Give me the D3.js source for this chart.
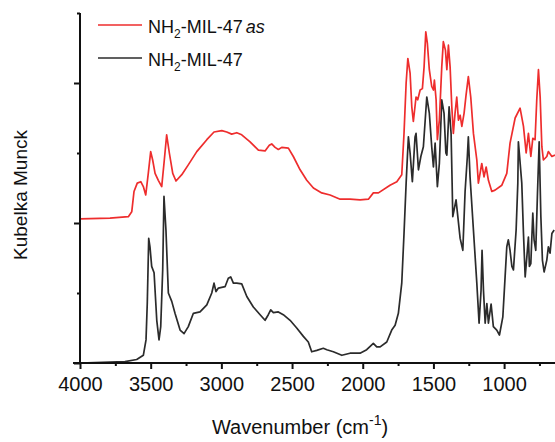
<!DOCTYPE html>
<html>
<head>
<meta charset="utf-8">
<script src="https://cdn.jsdelivr.net/npm/d3@7"></script>
<style>
  html, body { margin: 0; padding: 0; background: #fff; }
  svg { display: block; font-family: "Liberation Sans", Arial, sans-serif; }
</style>
</head>
<body>
<svg id="chart" width="555" height="442"></svg>
<script>
// ---- Data (wavenumber cm-1, Kubelka-Munck arbitrary units) ----
const seriesNames = ["NH2-MIL-47as", "NH2-MIL-47"];

const asWavenumber = [4000,3788,3658,3634,3618,3595,3570,3552,3535,3517,3500,3486,3469,3446,3422,3406,3387,3368,3344,3321,3280,3234,3174,3103,3052,2997,2962,2927,2891,2856,2797,2738,2691,2661,2644,2620,2597,2573,2526,2491,2443,2396,2349,2290,2231,2160,2090,2019,1960,1925,1889,1807,1759,1724,1708,1693,1681,1665,1653,1642,1623,1611,1594,1578,1566,1554,1543,1529,1512,1500,1493,1481,1472,1458,1441,1430,1415,1405,1394,1382,1370,1359,1347,1335,1323,1311,1299,1283,1269,1253,1236,1217,1193,1182,1158,1142,1127,1111,1087,1064,1016,981,958,922,887,863,844,828,811,797,781,769,757,745,733,722,698,687,662,640];
const asValue = [2.06,2.07,2.09,2.16,2.45,2.57,2.59,2.52,2.40,2.71,3.02,2.90,2.71,2.61,2.52,2.85,3.26,3.00,2.71,2.60,2.69,2.83,3.02,3.19,3.30,3.32,3.30,3.27,3.29,3.26,3.16,3.04,3.03,3.11,3.13,3.08,3.05,3.08,3.07,2.95,2.76,2.61,2.50,2.43,2.40,2.34,2.34,2.33,2.34,2.43,2.43,2.54,2.59,2.69,3.28,4.00,4.35,4.14,3.66,3.45,3.80,3.76,3.90,3.92,4.23,4.73,4.57,4.19,3.95,3.90,4.04,3.76,3.19,3.47,4.23,4.59,4.47,4.19,4.54,4.23,3.66,3.28,3.57,3.80,3.47,3.54,3.38,3.57,3.83,4.09,3.80,3.28,2.90,2.57,2.85,2.66,2.80,2.61,2.45,2.47,2.54,2.71,3.14,3.50,3.64,3.38,3.00,3.28,2.95,3.21,3.19,3.76,4.19,3.80,3.09,2.90,2.95,3.02,2.95,2.97];

const mWavenumber = [4000,3682,3599,3552,3533,3524,3514,3505,3493,3476,3457,3441,3429,3415,3406,3392,3375,3351,3328,3292,3264,3234,3198,3151,3103,3068,3052,3038,3021,2974,2951,2934,2915,2891,2856,2820,2774,2726,2691,2668,2651,2632,2597,2562,2514,2467,2420,2385,2361,2325,2279,2254,2208,2148,2090,2019,1972,1925,1901,1877,1830,1795,1771,1748,1724,1708,1693,1684,1677,1665,1649,1630,1623,1606,1589,1571,1547,1529,1512,1500,1488,1472,1458,1441,1425,1412,1405,1389,1375,1368,1363,1340,1330,1311,1292,1276,1260,1253,1241,1217,1193,1177,1163,1156,1146,1134,1122,1111,1092,1076,1052,1033,1009,993,981,970,958,945,934,915,903,899,875,863,851,839,828,821,811,797,788,776,764,752,740,729,717,698,687,675,662,646];
const mValue = [0.00,0.02,0.05,0.11,0.33,0.86,1.78,1.66,1.38,1.29,0.61,0.33,0.52,1.33,2.38,1.90,1.00,0.88,0.71,0.47,0.42,0.52,0.71,0.73,0.83,1.00,1.14,1.02,1.07,1.09,1.21,1.23,1.14,1.14,1.13,0.95,0.80,0.69,0.61,0.69,0.76,0.72,0.73,0.69,0.61,0.50,0.38,0.30,0.16,0.18,0.21,0.19,0.16,0.11,0.14,0.14,0.19,0.28,0.23,0.23,0.30,0.47,0.54,0.71,1.14,1.85,2.57,2.95,3.23,3.00,2.59,3.23,3.28,2.76,2.95,3.09,3.80,3.57,3.09,2.80,3.14,2.52,2.85,3.76,3.57,3.00,2.97,3.66,3.28,2.60,2.09,2.33,2.14,1.78,1.61,2.45,2.95,3.23,2.66,1.90,1.14,0.57,1.04,1.61,1.04,0.57,0.85,0.57,0.84,0.52,0.47,0.40,0.66,1.23,1.66,1.76,1.61,1.38,1.33,1.90,2.57,3.16,2.57,1.85,1.23,1.52,1.80,1.38,1.42,2.14,1.76,1.61,2.42,3.16,2.09,1.47,1.30,1.47,1.66,1.57,1.85,1.90];

const xMajorTicks = [4000,3500,3000,2500,2000,1500,1000];
const xMinorTicks = [3750,3250,2750,2250,1750,1250,750];
const yMajorTicks = [0,2,4];
const yMinorTicks = [1,3,5];

const xLabel = "Wavenumber (cm";
const yLabel = "Kubelka Munck";

// ---- Scales ----
const svg = d3.select("#chart");
const x = d3.scaleLinear().domain([4000, 640]).range([80, 555]);
const y = d3.scaleLinear().domain([0, 5]).range([363, 13]);

const line = d3.line().x(d => x(d[0])).y(d => y(d[1])).curve(d3.curveLinear);

const redData = d3.zip(asWavenumber, asValue);
const blackData = d3.zip(mWavenumber, mValue);

svg.append("path").datum(blackData)
  .attr("d", line).attr("fill", "none")
  .attr("stroke", "#2b2b2b").attr("stroke-width", 1.7).attr("stroke-linejoin", "round");
svg.append("path").datum(redData)
  .attr("d", line).attr("fill", "none")
  .attr("stroke", "#ee2d2d").attr("stroke-width", 1.7).attr("stroke-linejoin", "round");

// ---- Axes ----
const xAxisMajor = d3.axisBottom(x).tickValues(xMajorTicks).tickSize(6).tickPadding(8).tickFormat(d3.format("d"));
const xAxisMinor = d3.axisBottom(x).tickValues(xMinorTicks).tickSize(3).tickFormat("");
const gx = svg.append("g").attr("transform", `translate(0,${y(0)})`).call(xAxisMajor);
const gx2 = svg.append("g").attr("transform", `translate(0,${y(0)})`).call(xAxisMinor);
[gx, gx2].forEach(g => {
  g.select(".domain").remove();
  g.selectAll("line").attr("stroke", "#111").attr("stroke-width", 2);
});
gx.selectAll("text").attr("font-size", 20).attr("fill", "#111")
  .attr("font-family", "'Liberation Sans', Arial, sans-serif");

const yAxisMajor = d3.axisLeft(y).tickValues(yMajorTicks).tickSize(6).tickFormat("");
const yAxisMinor = d3.axisLeft(y).tickValues(yMinorTicks).tickSize(3).tickFormat("");
const gy = svg.append("g").attr("transform", `translate(${x(4000)},0)`).call(yAxisMajor);
const gy2 = svg.append("g").attr("transform", `translate(${x(4000)},0)`).call(yAxisMinor);
[gy, gy2].forEach(g => {
  g.select(".domain").remove();
  g.selectAll("line").attr("stroke", "#111").attr("stroke-width", 2);
});

// axis lines
svg.append("line").attr("x1", x(4000) - 7).attr("x2", 555).attr("y1", y(0)).attr("y2", y(0))
  .attr("stroke", "#111").attr("stroke-width", 2);
svg.append("line").attr("x1", x(4000)).attr("x2", x(4000)).attr("y1", y(5)).attr("y2", y(0) + 1)
  .attr("stroke", "#111").attr("stroke-width", 2);

// ---- Axis titles ----
const xt = svg.append("text").attr("x", 300).attr("y", 434).attr("text-anchor", "middle")
  .attr("font-size", 20).attr("fill", "#111");
xt.append("tspan").text(xLabel);
xt.append("tspan").attr("font-size", 14).attr("dy", -9).text("-1");
xt.append("tspan").attr("dy", 9).text(")");

svg.append("text").attr("transform", "translate(27,195) rotate(-90)")
  .attr("text-anchor", "middle").attr("font-size", 19).attr("fill", "#111").text(yLabel);

// ---- Legend ----
const legend = svg.append("g");
const legendColors = ["#ee2d2d", "#2b2b2b"];
const legendY = [25, 58];
seriesNames.forEach((name, i) => {
  legend.append("line").attr("x1", 98).attr("x2", 142).attr("y1", legendY[i]).attr("y2", legendY[i])
    .attr("stroke", legendColors[i]).attr("stroke-width", 1.7);
  const t = legend.append("text").attr("x", 148).attr("y", legendY[i] + 8)
    .attr("font-size", 18).attr("fill", "#111");
  t.append("tspan").text("NH");
  t.append("tspan").attr("font-size", 12).attr("dy", 5).text("2");
  t.append("tspan").attr("dy", -5).text("-MIL-47");
  if (name.endsWith("as")) {
    t.append("tspan").attr("font-style", "italic").attr("dx", 3).text("as");
  }
});
</script>
</body>
</html>
